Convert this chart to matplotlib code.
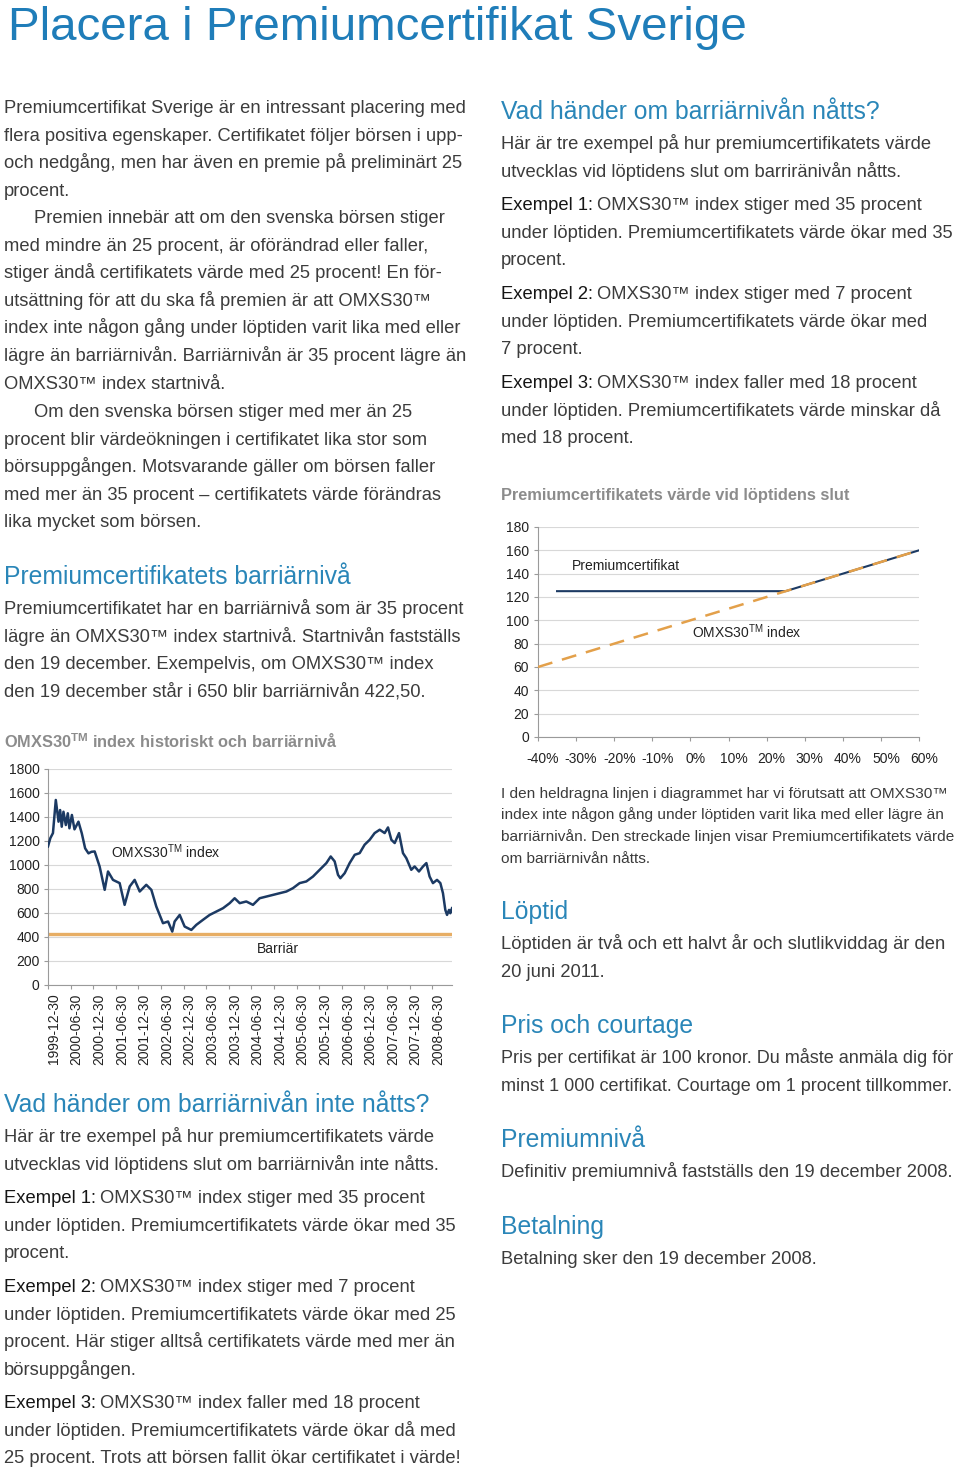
import matplotlib.pyplot as plt
import matplotlib.transforms as mtransforms
import pandas as pd

plt.rcParams['font.family'] = ['Liberation Sans', 'DejaVu Sans']
plt.rcParams['mathtext.fontset'] = 'custom'
plt.rcParams['mathtext.rm'] = 'Liberation Sans'
plt.rcParams['mathtext.bf'] = 'Liberation Sans:bold'

# OMXS30 index
idx_dates = ["1999-12-30", "2000-01-18", "2000-02-08", "2000-03-02", "2000-03-24", "2000-04-06",
             "2000-04-19", "2000-05-03", "2000-05-22", "2000-06-07", "2000-06-20", "2000-07-10",
             "2000-07-31", "2000-09-01", "2000-09-28", "2000-10-25", "2000-11-21", "2000-12-15",
             "2001-01-10", "2001-02-19", "2001-04-01", "2001-04-28", "2001-06-07", "2001-07-31",
             "2001-09-09", "2001-10-20", "2001-11-29", "2002-01-09", "2002-03-03", "2002-04-13",
             "2002-05-23", "2002-07-16", "2002-08-26", "2002-09-29", "2002-10-18", "2002-11-28",
             "2003-01-07", "2003-03-02", "2003-04-11", "2003-06-04", "2003-07-28", "2003-09-20",
             "2003-11-13", "2004-01-06", "2004-02-15", "2004-03-27", "2004-05-19", "2004-07-12",
             "2004-09-04", "2004-10-28", "2004-12-21", "2005-02-13", "2005-04-08", "2005-05-31",
             "2005-07-24", "2005-09-16", "2005-11-09", "2006-01-02", "2006-02-25", "2006-04-01",
             "2006-05-03", "2006-05-30", "2006-06-18", "2006-07-23", "2006-09-01", "2006-10-12",
             "2006-11-21", "2006-12-31", "2007-02-10", "2007-03-22", "2007-05-02", "2007-06-11",
             "2007-07-08", "2007-08-04", "2007-08-31", "2007-10-05", "2007-11-06", "2007-12-03",
             "2008-01-12", "2008-02-08", "2008-03-14", "2008-04-16", "2008-05-13", "2008-06-08",
             "2008-07-05", "2008-08-07", "2008-09-03", "2008-09-24", "2008-10-13", "2008-10-27",
             "2008-11-12", "2008-11-22", "2008-12-06"]
idx_values = [1155, 1224, 1266, 1542, 1361, 1458,
              1319, 1444, 1333, 1431, 1306, 1417,
              1297, 1361, 1264, 1139, 1097, 1110,
              1113, 988, 793, 946, 876, 849,
              668, 821, 876, 779, 835, 793,
              654, 515, 529, 445, 529, 584,
              487, 459, 501, 543, 584, 612,
              640, 682, 723, 682, 696, 668,
              723, 737, 751, 765, 779, 807,
              849, 863, 904, 960, 1016, 1071,
              1030, 918, 890, 932, 1016, 1085,
              1099, 1169, 1210, 1266, 1294, 1266,
              1313, 1210, 1183, 1266, 1099, 1057,
              960, 988, 946, 988, 1016, 904,
              849, 876, 849, 765, 626, 584,
              626, 598, 640]
barrier = 422.5
date_ticks = ["1999-12-30", "2000-06-30", "2000-12-30", "2001-06-30", "2001-12-30", "2002-06-30",
              "2002-12-30", "2003-06-30", "2003-12-30", "2004-06-30", "2004-12-30", "2005-06-30",
              "2005-12-30", "2006-06-30", "2006-12-30", "2007-06-30", "2007-12-30", "2008-06-30"]

# payoff chart
change_pct = [-40, 60]
index_value = [60, 160]
cert_pct = [-35, 25, 60]
cert_value = [125, 125, 160]

W, H = 960, 1470
BLUE = '#1f7db9'
HEAD = '#2a86b8'
BODY = '#3c3c3c'
DARK = '#151515'
GREY = '#8c8c8c'
NAVY = '#1c3a63'
ORANGE = '#e3a04a'
FS = 13.2
HS = 17.8

fig = plt.figure(figsize=(W / 100, H / 100), dpi=100)


def txt(x, y, s, size=FS, color=BODY, **kw):
    # x, y in pixels from top left, y is the baseline
    return fig.text(x / W, 1 - y / H, s, fontsize=size, color=color, va='baseline', **kw)


def lines(x, y0, rows, step=27.6, **kw):
    for i, r in enumerate(rows):
        txt(x, y0 + i * step, r, **kw)


def example(x, y, label, rest, step=27.6):
    t = txt(x, y, label, color=DARK)
    bb = t.get_window_extent(renderer=fig.canvas.get_renderer())
    txt(bb.x1 + 4, y, rest[0])
    for i, r in enumerate(rest[1:], start=1):
        txt(x, y + i * step, r)


def axes_px(left, top, right, bottom):
    return fig.add_axes([left / W, 1 - bottom / H, (right - left) / W, (bottom - top) / H])


def shift_xlabels(ax, px):
    off = mtransforms.ScaledTranslation(px / 100, 0, fig.dpi_scale_trans)
    for lab in ax.get_xticklabels():
        lab.set_transform(lab.get_transform() + off)


# title
txt(8, 40, 'Placera i Premiumcertifikat Sverige', size=34.2, color=BLUE)

# left column
lines(4, 113, ['Premiumcertifikat Sverige är en intressant placering med',
               'flera positiva egenskaper. Certifikatet följer börsen i upp-',
               'och nedgång, men har även en premie på preliminärt 25',
               'procent.'])
txt(34, 223, 'Premien innebär att om den svenska börsen stiger')
lines(4, 250.6, ['med mindre än 25 procent, är oförändrad eller faller,',
                 'stiger ändå certifikatets värde med 25 procent! En för-',
                 'utsättning för att du ska få premien är att OMXS30™',
                 'index inte någon gång under löptiden varit lika med eller',
                 'lägre än barriärnivån. Barriärnivån är 35 procent lägre än',
                 'OMXS30™ index startnivå.'])
txt(34, 417, 'Om den svenska börsen stiger med mer än 25')
lines(4, 444.6, ['procent blir värdeökningen i certifikatet lika stor som',
                 'börsuppgången. Motsvarande gäller om börsen faller',
                 'med mer än 35 procent – certifikatets värde förändras',
                 'lika mycket som börsen.'])

txt(4, 584, 'Premiumcertifikatets barriärnivå', size=HS, color=HEAD)
lines(4, 614, ['Premiumcertifikatet har en barriärnivå som är 35 procent',
               'lägre än OMXS30™ index startnivå. Startnivån fastställs',
               'den 19 december. Exempelvis, om OMXS30™ index',
               'den 19 december står i 650 blir barriärnivån 422,50.'])

txt(4, 748, r'OMXS30$^{\mathbf{TM}}$ index historiskt och barriärnivå', size=11.8,
    color=GREY, weight='bold')

# historical chart
ax1 = axes_px(48, 769, 452, 985)
d = pd.to_datetime(idx_dates)
ax1.plot(d, idx_values, color=NAVY, lw=1.8, zorder=3)
ax1.axhline(barrier, color=ORANGE, lw=2.4, alpha=0.85, zorder=2)
ax1.set_xlim(d[0], d[-1])
ax1.set_ylim(0, 1800)
ax1.set_yticks(range(0, 1801, 200))
ax1.set_xticks(pd.to_datetime(date_ticks))
ax1.set_xticklabels(date_ticks, rotation=90)
ax1.grid(axis='y', color='#d8d8d8', lw=0.8)
ax1.set_axisbelow(True)
for s in ['top', 'right']:
    ax1.spines[s].set_visible(False)
for s in ['left', 'bottom']:
    ax1.spines[s].set_color('#9a9a9a')
ax1.tick_params(axis='both', length=3, color='#9a9a9a', labelsize=10, labelcolor='#222222', pad=3)
shift_xlabels(ax1, 6)
ax1.text(0.155, 0.615, r'OMXS30$^{\mathrm{TM}}$ index', transform=ax1.transAxes,
         fontsize=10, color='#222222', va='center')
ax1.text(0.518, 0.165, 'Barriär', transform=ax1.transAxes, fontsize=10,
         color='#222222', va='center')

# lower left
txt(4, 1112, 'Vad händer om barriärnivån inte nåtts?', size=HS, color=HEAD)
lines(4, 1142, ['Här är tre exempel på hur premiumcertifikatets värde',
                'utvecklas vid löptidens slut om barriärnivån inte nåtts.'])
example(4, 1203, 'Exempel 1:', ['OMXS30™ index stiger med 35 procent',
                                'under löptiden. Premiumcertifikatets värde ökar med 35',
                                'procent.'])
example(4, 1292, 'Exempel 2:', ['OMXS30™ index stiger med 7 procent',
                                'under löptiden. Premiumcertifikatets värde ökar med 25',
                                'procent. Här stiger alltså certifikatets värde med mer än',
                                'börsuppgången.'])
example(4, 1408, 'Exempel 3:', ['OMXS30™ index faller med 18 procent',
                                'under löptiden. Premiumcertifikatets värde ökar då med',
                                '25 procent. Trots att börsen fallit ökar certifikatet i värde!'])

# right column
RX = 501
txt(RX, 119, 'Vad händer om barriärnivån nåtts?', size=HS, color=HEAD)
lines(RX, 149, ['Här är tre exempel på hur premiumcertifikatets värde',
                'utvecklas vid löptidens slut om barriränivån nåtts.'])
example(RX, 210, 'Exempel 1:', ['OMXS30™ index stiger med 35 procent',
                                'under löptiden. Premiumcertifikatets värde ökar med 35',
                                'procent.'])
example(RX, 299, 'Exempel 2:', ['OMXS30™ index stiger med 7 procent',
                                'under löptiden. Premiumcertifikatets värde ökar med',
                                '7 procent.'])
example(RX, 388, 'Exempel 3:', ['OMXS30™ index faller med 18 procent',
                                'under löptiden. Premiumcertifikatets värde minskar då',
                                'med 18 procent.'])

txt(RX, 500, 'Premiumcertifikatets värde vid löptidens slut', size=11.8, color=GREY, weight='bold')

# payoff chart
ax2 = axes_px(538, 527, 919, 737)
ax2.plot(cert_pct, cert_value, color=NAVY, lw=1.5, zorder=3)
ax2.plot(change_pct, index_value, color=ORANGE, lw=1.8, dashes=(6, 4), zorder=4)
ax2.set_xlim(-40, 60)
ax2.set_ylim(0, 180)
ax2.set_yticks(range(0, 181, 20))
ax2.set_xticks(range(-40, 61, 10))
ax2.set_xticklabels([f'{v}%' for v in range(-40, 61, 10)])
ax2.grid(axis='y', color='#d8d8d8', lw=0.8)
ax2.set_axisbelow(True)
for s in ['top', 'right']:
    ax2.spines[s].set_visible(False)
for s in ['left', 'bottom']:
    ax2.spines[s].set_color('#9a9a9a')
ax2.tick_params(axis='both', length=3, color='#9a9a9a', labelsize=10, labelcolor='#222222')
ax2.tick_params(axis='x', pad=8)
shift_xlabels(ax2, 5)
ax2.text(0.09, 0.815, 'Premiumcertifikat', transform=ax2.transAxes, fontsize=10,
         color='#222222', va='center')
ax2.text(0.405, 0.5, r'OMXS30$^{\mathrm{TM}}$ index', transform=ax2.transAxes, fontsize=10,
         color='#222222', va='center')

lines(RX, 798, ['I den heldragna linjen i diagrammet har vi förutsatt att OMXS30™',
                'index inte någon gång under löptiden varit lika med eller lägre än',
                'barriärnivån. Den streckade linjen visar Premiumcertifikatets värde',
                'om barriärnivån nåtts.'], step=21.5, size=11.1)

txt(RX, 919, 'Löptid', size=HS, color=HEAD)
lines(RX, 949, ['Löptiden är två och ett halvt år och slutlikviddag är den',
                '20 juni 2011.'])
txt(RX, 1033, 'Pris och courtage', size=HS, color=HEAD)
lines(RX, 1063, ['Pris per certifikat är 100 kronor. Du måste anmäla dig för',
                 'minst 1 000 certifikat. Courtage om 1 procent tillkommer.'], size=13.0)
txt(RX, 1147, 'Premiumnivå', size=HS, color=HEAD)
txt(RX, 1177, 'Definitiv premiumnivå fastställs den 19 december 2008.')
txt(RX, 1234, 'Betalning', size=HS, color=HEAD)
txt(RX, 1264, 'Betalning sker den 19 december 2008.')

fig.savefig('out.png', dpi=100)
